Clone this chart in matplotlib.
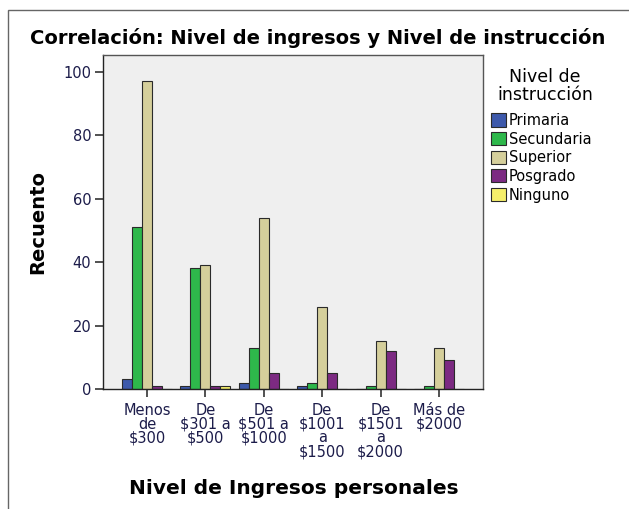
import numpy as np
import matplotlib.pyplot as plt
from matplotlib.patches import Rectangle

plt.rcParams['text.parse_math'] = False

# Data
categorias = ["Menos\nde\n$300", "De\n$301 a\n$500", "De\n$501 a\n$1000",
              "De\n$1001\na\n$1500", "De\n$1501\na\n$2000", "Más de\n$2000"]
primaria = [3, 1, 2, 1, 0, 0]
secundaria = [51, 38, 13, 2, 1, 1]
superior = [97, 39, 54, 26, 15, 13]
posgrado = [1, 1, 5, 5, 12, 9]
ninguno = [0, 1, 0, 0, 0, 0]

series = [("Primaria", primaria, "#3d59ab"),
          ("Secundaria", secundaria, "#2eb84b"),
          ("Superior", superior, "#d5cf9b"),
          ("Posgrado", posgrado, "#7c2a82"),
          ("Ninguno", ninguno, "#f6ef6a")]

W, H = 629, 509
fig = plt.figure(figsize=(W / 100, H / 100), dpi=100)
ax = fig.add_axes([103 / W, 1 - 389 / H, 380 / W, 334 / H])
ax.set_facecolor("#efefef")

x = np.arange(len(categorias))
width = 0.171
for i, (nombre, valores, color) in enumerate(series):
    ax.bar(x + (i - 2) * width, valores, width, color=color, edgecolor="#2a2a2a",
           linewidth=0.8, label=nombre)

ax.set_xlim(-0.753, 5.753)
ax.set_ylim(0, 105.3)
ax.set_yticks([0, 20, 40, 60, 80, 100])
ax.set_xticks(x)
ax.set_xticklabels(categorias, fontsize=10.5, color="#1c1c4a", linespacing=0.9)
for lab in ax.get_yticklabels():
    lab.set_fontsize(10.5)
    lab.set_color("#1c1c4a")
ax.tick_params(axis="both", length=6, width=1.1, color="#222222", pad=2.5)
ax.tick_params(axis="x", pad=4)
for s in ax.spines.values():
    s.set_color("#555555")
    s.set_linewidth(1.0)
ax.spines["left"].set_color("#222222")
ax.spines["bottom"].set_color("#222222")

fig.text(318 / W, 1 - 38 / H, "Correlación: Nivel de ingresos y Nivel de instrucción",
         ha="center", va="center", fontsize=14, fontweight="bold")
fig.text(38 / W, 1 - 222 / H, "Recuento", rotation=90, ha="center", va="center",
         fontsize=14, fontweight="bold")
fig.text(294 / W, 1 - 489 / H, "Nivel de Ingresos personales", ha="center", va="center",
         fontsize=14.5, fontweight="bold")

# leyenda
fig.text(545 / W, 1 - 86 / H, "Nivel de\ninstrucción", ha="center", va="center",
         fontsize=12.5, linespacing=1.0)
fig.legend(loc="upper left", bbox_to_anchor=(491 / W, 1 - 113 / H), frameon=False,
           fontsize=10.5, handlelength=1.0, handleheight=1.0, labelspacing=0.25,
           handletextpad=0.2, borderpad=0, borderaxespad=0)

# marco exterior
fig.patches.append(Rectangle((8 / W, -0.1), 2, 1.1 - 10 / H, transform=fig.transFigure,
                             fill=False, edgecolor="#666666", linewidth=1.0))

fig.savefig("out.png", dpi=100)
